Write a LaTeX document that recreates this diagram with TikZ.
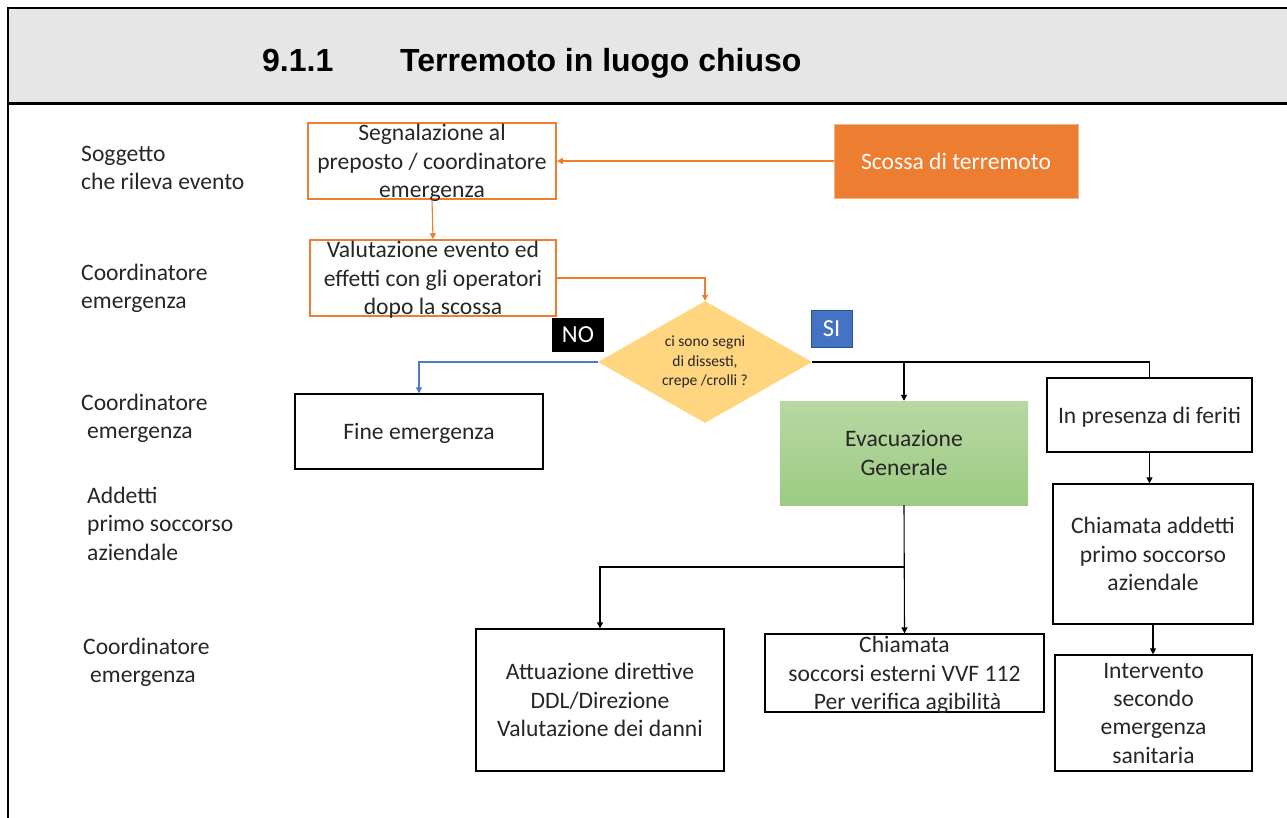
\documentclass[tikz,border=0pt]{standalone}
\usepackage{fontspec}
\setmainfont{Carlito}
\newfontfamily\titlefont{Liberation Sans}
\usetikzlibrary{arrows.meta,shapes.geometric}
\definecolor{orng}{HTML}{ED7D31}
\definecolor{dia}{HTML}{FFD580}
\definecolor{siblue}{HTML}{4472C4}
\definecolor{noline}{HTML}{4A7BD0}
\definecolor{hdr}{HTML}{E6E6E6}
\definecolor{txt}{HTML}{262626}
\definecolor{grtop}{HTML}{B7D8A2}
\definecolor{grbot}{HTML}{9DCB82}
\tikzset{
  mainfont/.style={font={\fontsize{23.6}{28.3}\selectfont}, text=txt},
  obox/.style={mainfont, draw=orng, line width=1.5pt, align=center, inner sep=0pt, text depth=0pt},
  kbox/.style={mainfont, draw=black, line width=1.3pt, align=center, inner sep=0pt, text depth=0pt},
  lbl/.style={mainfont, align=left, anchor=north west, inner sep=0pt},
  tag/.style={font={\fontsize{24.5}{26}\selectfont}, text=white, inner sep=0pt},
  conn/.style={line width=1.1pt, -{Triangle[width=6pt,length=6pt]}},
  connl/.style={line width=1.1pt},
}
\begin{document}
\begin{tikzpicture}[x=1pt,y=-1pt]
\useasboundingbox (0,0) rectangle (1287,818);
% header
\fill[hdr] (8,8) rectangle (1287,103);
\draw[line width=2.5pt] (1287,8) -- (8,8) -- (8,818);
\draw[line width=3pt] (8,103.5) -- (1287,103.5);
\node[font={\titlefont\bfseries\fontsize{32}{36}\selectfont}, anchor=base west, inner sep=0pt] (tnum) at (262,72) {9.1.1};
\node[font={\titlefont\bfseries\fontsize{32}{36}\selectfont}, anchor=base west, inner sep=0pt] (ttl) at (400,72) {Terremoto in luogo chiuso};

% left labels
\node[lbl] (l1) at (81,146) {Soggetto\\che rileva evento};
\node[lbl] (l2) at (81,264) {Coordinatore\\emergenza};
\node[lbl] (l3) at (81,394) {Coordinatore\\\hspace*{6pt}emergenza};
\node[lbl] (l4) at (87,487) {Addetti\\primo soccorso\\aziendale};
\node[lbl] (l5) at (83,638) {Coordinatore\\\hspace*{7pt}emergenza};

% nodes
\node[obox, minimum width=248pt, minimum height=76pt] (seg) at (432,161) {Segnalazione al\\preposto / coordinatore\\emergenza};
\node[fill=orng, draw=orng!60, minimum width=244pt, minimum height=74pt, font={\fontsize{23.6}{28.3}\selectfont}, text=white, inner sep=0pt, text depth=0pt] (sco) at (956,161) {Scossa di terremoto};
\node[obox, minimum width=246pt, minimum height=76pt] (val) at (433,278) {Valutazione evento ed\\effetti con gli operatori\\dopo la scossa};
\node[diamond, fill=dia, draw=none, minimum width=214pt, minimum height=122pt, aspect=1.75, inner sep=0pt, align=center, text=txt, font={\fontsize{15.5}{19.5}\selectfont}] (dec) at (705,362) {ci sono segni\\di dissesti,\\crepe /crolli ?};
\node[fill=black, minimum width=52pt, minimum height=34pt, tag] (no) at (578,335) {NO};
\node[fill=siblue, draw=siblue!70!black, line width=0.6pt, minimum width=41pt, minimum height=37pt, tag] (si) at (831.5,328.5) {SI};
\node[kbox, minimum width=248pt, minimum height=75pt] (fine) at (419,431.5) {Fine emergenza};
\node[mainfont, top color=grtop, bottom color=grbot, draw=none, minimum width=248pt, minimum height=104pt, align=center, inner sep=0pt, text depth=0pt] (evac) at (904,453) {Evacuazione\\Generale};
\node[kbox, minimum width=205pt, minimum height=74pt] (pres) at (1149.5,415) {In presenza di feriti};
\node[kbox, minimum width=200pt, minimum height=140pt] (chA) at (1153,554) {Chiamata addetti\\primo soccorso\\aziendale};
\node[kbox, minimum width=197pt, minimum height=116pt] (int) at (1153.5,713) {Intervento\\secondo\\emergenza\\sanitaria};
\node[kbox, minimum width=248pt, minimum height=142pt] (att) at (600,700) {Attuazione direttive\\DDL/Direzione\\Valutazione dei danni};
\node[kbox, minimum width=279pt, minimum height=78pt] (vvf) at (904.5,673) {Chiamata\\soccorsi esterni VVF 112\\\hspace*{6pt}Per verifica agibilità};

% connectors
\draw[conn, draw=orng] (sco.west) -- (seg.east);
\draw[conn, draw=orng] (seg.south) -- (val.north);
\draw[conn, draw=orng] (val.east) -| (dec.north);
\draw[conn, draw=noline] (dec.west) -| (fine.north);
\draw[connl] (dec.east) -| (pres.north);
\coordinate (sib) at (evac.north |- dec.east);
\draw[conn] (sib) -- (evac.north);
\draw[conn] (evac.south) -- (vvf.north);
\coordinate (eb) at (904,567);
\draw[conn] (eb) -| (att.north);
\draw[conn] (pres.south) -- (pres.south |- chA.north);
\draw[conn] (chA.south) -- (chA.south |- int.north);
\end{tikzpicture}
\end{document}
